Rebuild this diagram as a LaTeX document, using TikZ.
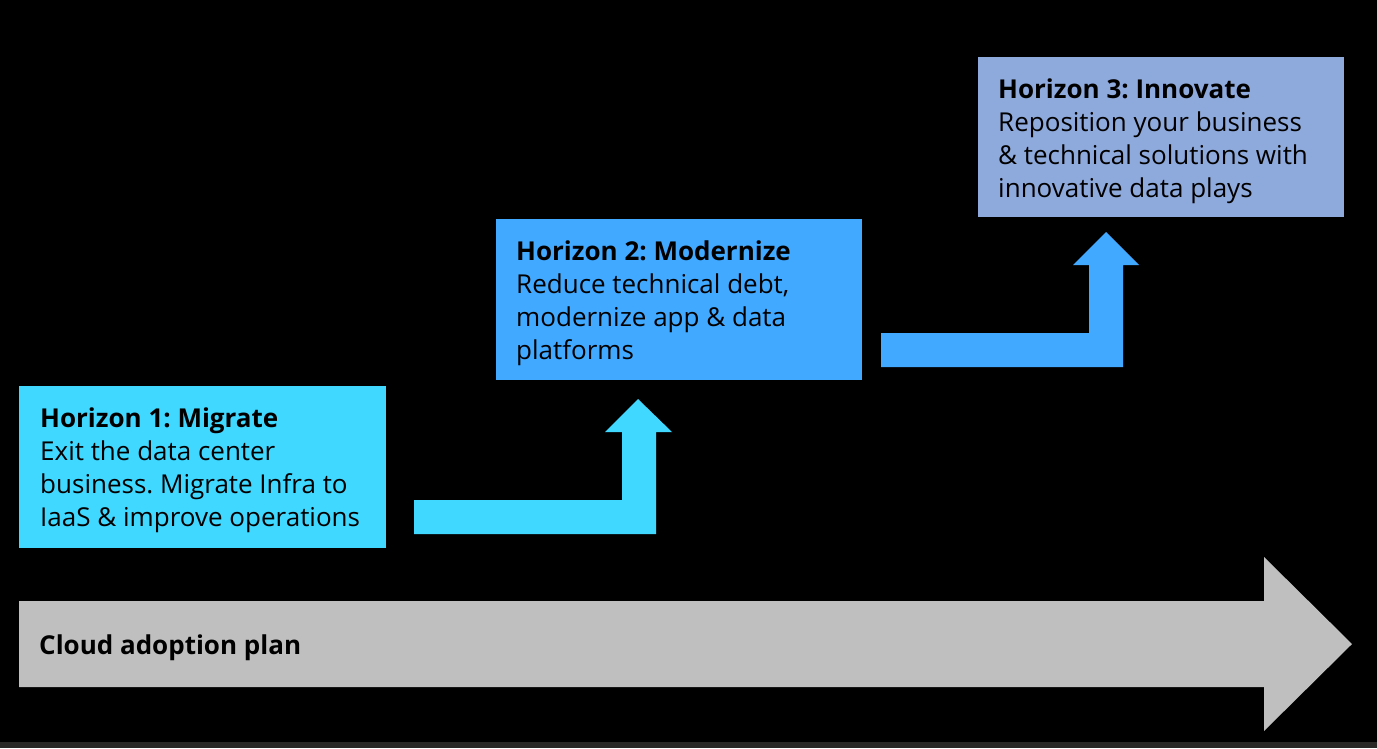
\documentclass[tikz,border=0pt]{standalone}
\usepackage{fontspec}
\setmainfont{Open Sans}
\frenchspacing
\begin{document}
\begin{tikzpicture}[x=1pt,y=-1pt,
  hbox/.style={draw=none,inner sep=0pt,anchor=north west},
  htext/.style={inner sep=0pt,anchor=base west,align=left,text=black,
    font=\fontsize{26}{33}\selectfont\frenchspacing},
  arrowfill/.style={draw=none}
]
\definecolor{hone}{HTML}{40D8FF}
\definecolor{htwo}{HTML}{41A9FF}
\definecolor{hthree}{HTML}{8EA9DB}
\definecolor{plan}{HTML}{BFBFBF}
\definecolor{strip}{HTML}{2A2826}
\useasboundingbox (0,0) rectangle (1377,748);
\fill[black] (0,0) rectangle (1377,748);
\fill[strip] (0,742) rectangle (1377,748);

% boxes
\node[hbox,fill=hone,minimum width=367pt,minimum height=162pt] (h1) at (19,386) {};
\node[hbox,fill=htwo,minimum width=366pt,minimum height=161pt] (h2) at (496,219) {};
\node[hbox,fill=hthree,minimum width=366pt,minimum height=160pt] (h3) at (978,57) {};

% texts (anchored at the baseline of their last line)
\node[htext] (h1t) at (40,526) {\textbf{Horizon 1: Migrate}\\Exit the data center\\business. Migrate Infra to\\IaaS \& improve operations};
\node[htext] (h2t) at (516,359) {\textbf{Horizon 2: Modernize}\\Reduce technical debt,\\modernize app \& data\\platforms};
\node[htext] (h3t) at (998,197) {\textbf{Horizon 3: Innovate}\\Reposition your business\\\& technical solutions with\\innovative data plays};

% bent arrows
\fill[hone] (414,500) -- (622,500) -- (622,432) -- (605,432) -- (638,399) -- (672,432) -- (656,432) -- (656,534) -- (414,534) -- cycle;
\fill[htwo] (881,333) -- (1089,333) -- (1089,265) -- (1073,265) -- (1106,232) -- (1139,265) -- (1123,265) -- (1123,367) -- (881,367) -- cycle;

% plan arrow
\fill[plan] (19,601) -- (1264,601) -- (1264,557) -- (1352,644) -- (1264,731) -- (1264,687) -- (19,687) -- cycle;
\node[htext,font=\fontsize{26}{33}\selectfont\bfseries] (plan) at (39,654) {Cloud adoption plan};
\end{tikzpicture}
\end{document}
